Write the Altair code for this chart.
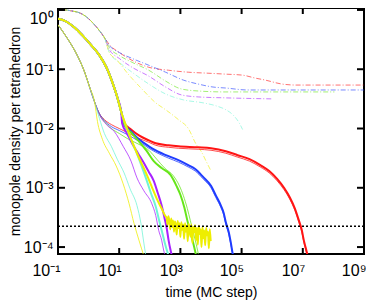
import math
import altair as alt
import pandas as pd

# ---------------- data (log10 time, log10 density) ----------------
colors = ["red", "blue", "green", "purple", "cyan", "yellow"]
hexes = ["#ff1414", "#1f3cff", "#66e619", "#a822ff", "#6ff5d5", "#eeee00"]

# thick solid curves: common early part
thick_start_lt = [-1.0, -0.774, -0.452, -0.194, 0.097, 0.355, 0.581, 0.774, 0.935, 1.065]
thick_start_lm = [-0.15, -0.183, -0.3, -0.433, -0.6, -0.767, -0.967, -1.217, -1.467, -1.717]

red_thick_lt = [1.161, 1.387, 1.645, 1.968, 2.194, 2.613, 2.935, 3.581, 4.0, 4.484, 4.871, 5.258, 5.613, 5.903, 6.161, 6.387, 6.581, 6.742, 6.871, 6.968, 7.032, 7.097, 7.161]
red_thick_lm = [-1.9, -2.017, -2.117, -2.2, -2.25, -2.283, -2.3, -2.317, -2.333, -2.383, -2.45, -2.517, -2.617, -2.717, -2.85, -3.0, -3.167, -3.35, -3.55, -3.717, -3.883, -4.017, -4.15]
blue_thick_lt = [1.161, 1.387, 1.645, 1.968, 2.194, 2.613, 2.935, 3.258, 3.484, 3.742, 4.0, 4.161, 4.323, 4.419, 4.484, 4.581, 4.645, 4.710, 4.742]
blue_thick_lm = [-1.917, -2.05, -2.183, -2.3, -2.367, -2.467, -2.533, -2.617, -2.683, -2.817, -2.967, -3.133, -3.3, -3.433, -3.583, -3.75, -3.917, -4.117, -4.183]
green_thick_lt = [1.161, 1.387, 1.645, 1.903, 2.129, 2.387, 2.677, 2.871, 3.0, 3.129, 3.226, 3.323, 3.419, 3.516]
green_thick_lm = [-1.933, -2.067, -2.217, -2.383, -2.55, -2.667, -2.783, -2.967, -3.117, -3.333, -3.55, -3.75, -3.933, -4.15]
purple_thick_lt = [1.097, 1.258, 1.419, 1.613, 1.806, 1.968, 2.129, 2.258, 2.387, 2.484, 2.548, 2.613, 2.677, 2.742]
purple_thick_lm = [-1.917, -2.083, -2.25, -2.417, -2.583, -2.733, -2.883, -3.083, -3.3, -3.517, -3.667, -3.883, -4.05, -4.183]
cyan_thick_lt = [1.226, 1.387, 1.548, 1.710, 1.871, 2.032, 2.194, 2.290, 2.387, 2.484, 2.613]
cyan_thick_lm = [-1.967, -2.183, -2.383, -2.6, -2.833, -3.083, -3.317, -3.517, -3.717, -3.917, -4.15]
yellow_thick_lt = [1.258, 1.419, 1.581, 1.742, 1.903, 2.065, 2.226, 2.387, 2.516,
                   2.55, 2.58, 2.61, 2.64, 2.67, 2.70, 2.73, 2.76, 2.79, 2.82, 2.85, 2.88, 2.91, 2.94, 2.97,
                   3.00, 3.03, 3.06, 3.09, 3.12, 3.15, 3.18, 3.21, 3.24, 3.27, 3.30, 3.33, 3.36, 3.39,
                   3.42, 3.45, 3.48, 3.51, 3.54, 3.57, 3.60, 3.63, 3.66, 3.69, 3.72, 3.75, 3.78, 3.81,
                   3.84, 3.87, 3.90, 3.93, 3.96, 3.99]
yellow_thick_lm = [-2.0, -2.217, -2.417, -2.6, -2.783, -2.983, -3.183, -3.35, -3.483,
                   -3.50, -3.62, -3.48, -3.58, -3.70, -3.52, -3.66, -3.55, -3.74, -3.57, -3.63, -3.79, -3.56, -3.68, -3.60,
                   -3.83, -3.58, -3.71, -3.62, -3.86, -3.60, -3.74, -3.64, -3.90, -3.61, -3.70, -3.82, -3.62, -3.93,
                   -3.66, -3.75, -3.63, -3.88, -3.68, -3.96, -3.64, -3.78, -3.70, -4.00, -3.66, -3.85, -3.72, -3.97,
                   -3.68, -3.80, -3.74, -4.02, -3.70, -3.90]

# thin solid curves
thin_start_lt = [-1.0, -0.710, -0.387, -0.129, 0.032, 0.194]
thin_start_lm = [-0.25, -0.467, -0.75, -1.05, -1.3, -1.55]
red_thin_lt = [0.355, 0.516, 0.742, 1.0, 1.258, 1.645, 1.968, 2.194, 2.613, 2.935, 3.581, 4.0, 4.484, 4.871, 5.258, 5.613, 5.903, 6.161, 6.387, 6.581, 6.742, 6.871, 6.968, 7.032, 7.097, 7.161]
red_thin_lm = [-1.75, -1.85, -1.933, -2.0, -2.067, -2.167, -2.233, -2.283, -2.317, -2.333, -2.35, -2.367, -2.417, -2.483, -2.55, -2.65, -2.75, -2.883, -3.033, -3.2, -3.383, -3.583, -3.75, -3.917, -4.05, -4.183]
blue_thin_lt = [0.355, 0.516, 0.742, 1.0, 1.258, 1.645, 1.968, 2.194, 2.613, 2.935, 3.258, 3.484, 3.742, 4.0, 4.161, 4.323, 4.419, 4.484, 4.581, 4.645, 4.742]
blue_thin_lm = [-1.75, -1.867, -1.967, -2.033, -2.1, -2.217, -2.333, -2.4, -2.5, -2.567, -2.65, -2.717, -2.85, -3.0, -3.167, -3.333, -3.467, -3.617, -3.783, -3.95, -4.183]
green_thin_lt = [0.355, 0.516, 0.742, 1.0, 1.258, 1.645, 1.968, 2.226, 2.484, 2.774, 2.968, 3.097, 3.226, 3.323, 3.419, 3.516, 3.613]
green_thin_lm = [-1.767, -1.883, -2.0, -2.083, -2.167, -2.267, -2.367, -2.517, -2.667, -2.8, -2.967, -3.133, -3.35, -3.55, -3.75, -3.95, -4.183]
purple_thin_lt = [0.355, 0.581, 0.839, 1.129, 1.387, 1.581, 1.806, 2.065, 2.194, 2.290, 2.387, 2.452, 2.516]
purple_thin_lm = [-1.767, -1.933, -2.05, -2.3, -2.55, -2.833, -3.05, -3.267, -3.467, -3.717, -3.883, -4.05, -4.183]
cyan_thin_lt = [0.355, 0.516, 0.742, 0.935, 1.161, 1.355, 1.581, 1.710, 1.806, 1.871]
cyan_thin_lm = [-1.833, -2.083, -2.3, -2.517, -2.75, -3.017, -3.3, -3.6, -3.933, -4.15]
yellow_thin_lt = [0.290, 0.452, 0.677, 0.903, 1.129, 1.323, 1.484, 1.645, 1.806]
yellow_thin_lm = [-1.883, -2.183, -2.417, -2.633, -2.933, -3.267, -3.6, -3.883, -4.15]

# dash-dot curves
dd_start_lt = [-1.0, -0.774, -0.548, -0.290, -0.032, 0.194, 0.355, 0.516]
dd_start_lm = [0.0, 0.0, -0.017, -0.05, -0.133, -0.25, -0.35, -0.467]
red_dd_lt = [0.677, 1.0, 1.419, 1.968, 2.613, 3.258, 3.903, 4.484, 5.032, 5.452, 5.774, 6.323, 6.806, 9.0]
red_dd_lm = [-0.583, -0.717, -0.85, -0.967, -1.017, -1.05, -1.067, -1.083, -1.1, -1.15, -1.183, -1.25, -1.267, -1.267]
blue_dd_lt = [0.677, 1.0, 1.419, 1.968, 2.516, 3.097, 3.581, 4.065, 4.484, 5.194, 9.0]
blue_dd_lm = [-0.6, -0.717, -0.817, -0.933, -1.05, -1.183, -1.25, -1.3, -1.317, -1.35, -1.35]
green_dd_lt = [0.677, 1.0, 1.419, 1.968, 2.516, 3.032, 3.581, 4.484, 8.032]
green_dd_lm = [-0.633, -0.767, -0.883, -1.017, -1.2, -1.333, -1.367, -1.383, -1.383]
purple_dd_lt = [0.677, 1.0, 1.419, 1.968, 2.516, 3.032, 3.581, 4.484, 5.968]
purple_dd_lm = [-0.667, -0.817, -0.967, -1.117, -1.3, -1.433, -1.467, -1.483, -1.5]
cyan_dd_lt = [0.677, 1.0, 1.419, 1.968, 2.516, 3.097, 3.742, 4.161, 4.484, 4.742, 4.935, 5.032]
cyan_dd_lm = [-0.717, -0.883, -1.05, -1.25, -1.417, -1.517, -1.567, -1.617, -1.683, -1.783, -1.917, -2.017]
yellow_dd_lt = [0.677, 0.903, 1.323, 1.742, 2.194, 2.516, 2.935, 3.258, 3.516, 3.677, 3.839, 4.0]
yellow_dd_lm = [-0.717, -0.833, -1.1, -1.333, -1.567, -1.683, -1.85, -2.0, -2.267, -2.383, -2.55, -2.717]

threshold = 2.24e-4
x_ticks = [0.1, 10, 1e3, 1e5, 1e7, 1e9]
y_ticks = [1e-4, 1e-3, 1e-2, 1e-1, 1]

# ---------------- build tables ----------------
thick = {"red": (red_thick_lt, red_thick_lm), "blue": (blue_thick_lt, blue_thick_lm),
         "green": (green_thick_lt, green_thick_lm), "purple": (purple_thick_lt, purple_thick_lm),
         "cyan": (cyan_thick_lt, cyan_thick_lm), "yellow": (yellow_thick_lt, yellow_thick_lm)}
thin = {"red": (red_thin_lt, red_thin_lm), "blue": (blue_thin_lt, blue_thin_lm),
        "green": (green_thin_lt, green_thin_lm), "purple": (purple_thin_lt, purple_thin_lm),
        "cyan": (cyan_thin_lt, cyan_thin_lm), "yellow": (yellow_thin_lt, yellow_thin_lm)}
dd = {"red": (red_dd_lt, red_dd_lm), "blue": (blue_dd_lt, blue_dd_lm),
      "green": (green_dd_lt, green_dd_lm), "purple": (purple_dd_lt, purple_dd_lm),
      "cyan": (cyan_dd_lt, cyan_dd_lm), "yellow": (yellow_dd_lt, yellow_dd_lm)}


def build(series, start_lt, start_lm, style):
    rows = []
    for c, (lt, lm) in series.items():
        for i, (a, b) in enumerate(zip(start_lt + lt, start_lm + lm)):
            rows.append({"t": 10 ** a, "m": 10 ** b, "color": c, "key": c + style, "i": i})
    return pd.DataFrame(rows)


df_thick = build(thick, thick_start_lt, thick_start_lm, "thick")
df_thin = build(thin, thin_start_lt, thin_start_lm, "thin")
df_dd = build(dd, dd_start_lt, dd_start_lm, "dd")

W, H = 306, 246
FONT = "Liberation Sans"

sup = {"-": "\u207b", "0": "\u2070", "1": "\u00b9", "2": "\u00b2", "3": "\u00b3", "4": "\u2074",
       "5": "\u2075", "6": "\u2076", "7": "\u2077", "8": "\u2078", "9": "\u2079"}


def label_expr(vals):
    parts = []
    for v in vals[:-1]:
        e = str(int(round(math.log10(v))))
        parts.append(f"datum.value < {v * 1.5} ? '10{''.join(sup[ch] for ch in e)}' : ")
    e = str(int(round(math.log10(vals[-1]))))
    return "".join(parts) + f"'10{''.join(sup[ch] for ch in e)}'"


xscale = alt.Scale(type="log", domain=[0.1, 1e9], nice=False)
yscale = alt.Scale(type="log", domain=[10 ** -4.117, 10 ** 0.033], nice=False)

x_axis = alt.Axis(
    values=x_ticks, ticks=False, domain=False, grid=False, labelExpr=label_expr(x_ticks),
    labelAlign="right", labelOffset=2, labelFlush=False, labelOverlap=False, labelBound=False,
    labelFontSize=16, labelPadding=8, labelColor="black", labelFont=FONT,
    title="time (MC step)", titleFontSize=14, titleFontWeight="normal", titleFont=FONT,
    titlePadding=7, titleColor="black")
y_axis = alt.Axis(
    values=y_ticks, ticks=False, domain=False, grid=False, labelExpr=label_expr(y_ticks),
    labelFlush=False, labelOverlap=False, labelBound=False,
    labelOffset={"condition": {"test": "datum.value >= 0.5", "value": 9}, "value": 0},
    labelFontSize=16, labelPadding=5, labelColor="black", labelFont=FONT,
    title="monopole density per tetrahedron", titleFontSize=14, titleFontWeight="normal",
    titleFont=FONT, titlePadding=1, titleColor="black")

x_enc = alt.X("t:Q", scale=xscale, axis=x_axis)
y_enc = alt.Y("m:Q", scale=yscale, axis=y_axis)
cscale = alt.Scale(domain=colors, range=hexes)


def lines(df, width, opacity, dash=None, dash_offset=0):
    kw = dict(clip=True, strokeWidth=width, opacity=opacity, interpolate="monotone")
    if dash:
        kw["strokeDash"] = dash
        kw["strokeDashOffset"] = dash_offset
    return alt.Chart(df).mark_line(**kw).encode(
        x=x_enc, y=y_enc,
        color=alt.Color("color:N", scale=cscale, legend=None),
        detail="key:N", order="i:Q")


dd_layers = [lines(df_dd[df_dd["color"] == c], 1.0, 0.6, [5, 2, 1, 2], k * 3)
             for k, c in enumerate(colors)]
layer_thin = lines(df_thin, 0.9, 0.85)
layer_thick = lines(df_thick, 2.0, 1.0)

hline = alt.Chart(pd.DataFrame({"m": [threshold]})).mark_rule(
    color="black", strokeWidth=1.6, strokeDash=[2, 2]).encode(
    y=y_enc, x=alt.value(0), x2=alt.value(W))

xt = pd.DataFrame({"t": x_ticks})
yt = pd.DataFrame({"m": y_ticks})
xtick_b = alt.Chart(xt).mark_rule(color="black", strokeWidth=2).encode(
    x=x_enc, y=alt.value(H), y2=alt.value(H - 6))
xtick_t = alt.Chart(xt).mark_rule(color="black", strokeWidth=2).encode(
    x=x_enc, y=alt.value(0), y2=alt.value(6))
ytick_l = alt.Chart(yt).mark_rule(color="black", strokeWidth=2).encode(
    y=y_enc, x=alt.value(0), x2=alt.value(7))
ytick_r = alt.Chart(yt).mark_rule(color="black", strokeWidth=2).encode(
    y=y_enc, x=alt.value(W - 7), x2=alt.value(W))

chart = alt.layer(*dd_layers, layer_thin, layer_thick, hline,
                  xtick_b, xtick_t, ytick_l, ytick_r).properties(
    width=W, height=H,
    autosize=alt.AutoSizeParams(type="none"),
    padding={"left": 50, "top": 0, "right": 2, "bottom": 50},
).configure_view(stroke="black", strokeWidth=2)

chart.save("out.html", embed_options={"renderer": "svg", "actions": False})
